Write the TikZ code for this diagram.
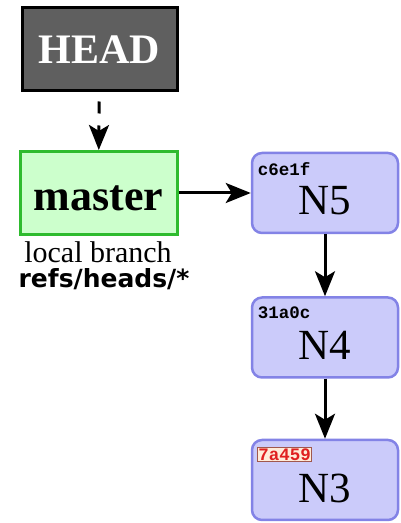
\documentclass[tikz,border=0pt]{standalone}
\usepackage{fontspec}
\setmainfont{Liberation Serif}
\setmonofont{Liberation Mono}
\newfontfamily\refsfont{DejaVu Sans}
\usetikzlibrary{arrows.meta,positioning}
\definecolor{cHead}{HTML}{5F5F5F}
\definecolor{cBranchFill}{HTML}{CCFFCC}
\definecolor{cBranchLine}{HTML}{2EBB2E}
\definecolor{cCommitFill}{HTML}{CBCBFA}
\definecolor{cCommitLine}{HTML}{8383E6}
\definecolor{cHashRed}{HTML}{E02020}
\definecolor{cHashBox}{HTML}{A0584E}
\newcommand{\bigtext}{\fontsize{43}{46}\selectfont}

\begin{document}
\begin{tikzpicture}[x=1pt, y=1pt,
  headbox/.style={draw=black, line width=3pt, fill=cHead, text=white,
    minimum width=155, minimum height=83, font=\fontsize{42}{44}\selectfont\bfseries},
  branchbox/.style={draw=cBranchLine, line width=3pt, fill=cBranchFill,
    minimum width=157, minimum height=83, font=\fontsize{44}{46}\selectfont\bfseries},
  commitbox/.style={draw=cCommitLine, line width=2.5pt, fill=cCommitFill,
    rounded corners=10pt, minimum width=146, minimum height=80},
  ntext/.style={font=\bigtext, inner sep=0pt},
  hash/.style={font=\fontsize{17.5}{18}\selectfont\ttfamily\bfseries, inner sep=1pt, anchor=west},
  hashmark/.style={hash, draw=cHashBox, line width=1pt, fill=white!85!orange, text=cHashRed},
  link/.style={line width=3pt, -{Stealth[length=25pt, width=20pt, inset=6pt]}}]
\useasboundingbox (0,0) rectangle (401,523);
% ---- refs ----------------------------------------------------------------
\node[headbox] (head) at (99.5,473.5) {HEAD};
\node[branchbox] (master) at (98.5,330) {};
\node[font=\fontsize{44}{46}\selectfont\bfseries, inner sep=0pt] (mastert) at ([yshift=-5]master.center) {master};
\node[font=\fontsize{30}{31}\selectfont, anchor=base] (kind) at (98,260) {local branch};
\node[font=\refsfont\fontsize{25}{26}\selectfont\bfseries, anchor=base] (refs) at (104,235) {refs/heads/*};
% ---- commits -------------------------------------------------------------
\node[commitbox] (n5) at (325,330) {};
\node[commitbox] (n4) at (325,185.5) {};
\node[commitbox] (n3) at (325,43) {};
\node[ntext] (n5t) at ([yshift=-8]n5.center) {N5};
\node[ntext] (n4t) at ([yshift=-8]n4.center) {N4};
\node[ntext] (n3t) at ([yshift=-8]n3.center) {N3};
\node[hash] (h5) at ([xshift=6, yshift=-17]n5.north west) {c6e1f};
\node[hash] (h4) at ([xshift=6, yshift=-16]n4.north west) {31a0c};
\node[hashmark] (h3) at ([xshift=6, yshift=-16]n3.north west) {7a459};
% ---- arrows --------------------------------------------------------------
\draw[link, dash pattern=on 12pt off 12pt, dash phase=15pt] (head) -- (master);
\draw[link] (master) -- (n5);
\draw[link] (n5) -- (n4);
\draw[link] (n4) -- (n3);
\end{tikzpicture}
\end{document}
